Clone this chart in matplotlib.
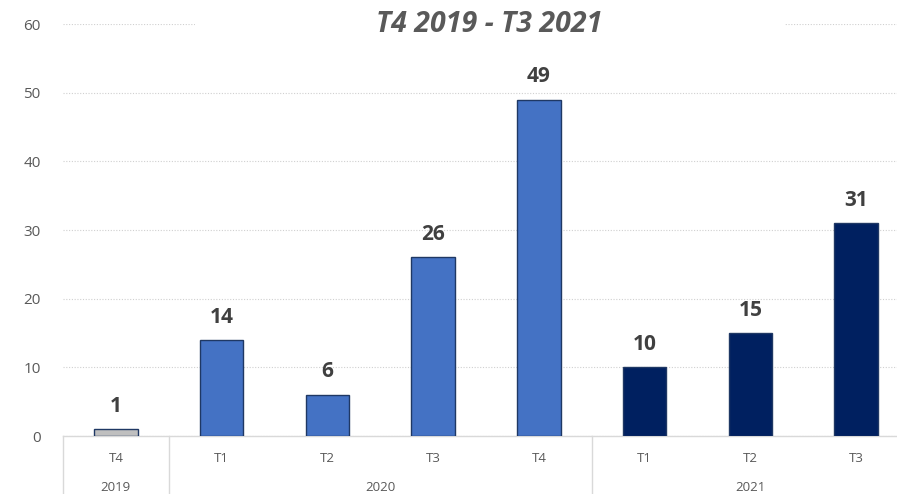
import matplotlib; matplotlib.use("Agg")
import matplotlib.pyplot as plt
import matplotlib.transforms as mtransforms
from matplotlib.patches import Rectangle

# data
quarters = ["T4", "T1", "T2", "T3", "T4", "T1", "T2", "T3"]
years = ["2019", "2020", "2020", "2020", "2020", "2021", "2021", "2021"]
values = [1, 14, 6, 26, 49, 10, 15, 31]
year_colors = {"2019": "#BFBFBF", "2020": "#4472C4", "2021": "#002060"}
title = "T4 2019 - T3 2021"

plt.rcParams["font.family"] = ["Open Sans", "DejaVu Sans"]

fig = plt.figure(figsize=(8.97, 4.94), dpi=100)
ax = fig.add_axes([63 / 897, 58 / 494, (909 - 63) / 897, 412 / 494])

x = list(range(len(values)))
colors = [year_colors[y] for y in years]
ax.bar(x, values, width=0.41, color=colors, edgecolor="#1F3864", linewidth=1.0, zorder=3)

for xi, v in zip(x, values):
    ax.text(xi, v + 1.8, str(v), ha="center", va="bottom", fontsize=15,
            fontweight="bold", color="#404040")

ax.set_xlim(-0.5, len(values) - 0.5)
ax.set_ylim(0, 60)
ax.set_yticks(range(0, 61, 10))
ax.tick_params(axis="y", length=0, labelsize=11, labelcolor="#595959", pad=16)
ax.set_xticks([])
ax.grid(axis="y", color="#D0D0D0", linestyle=(0, (1, 1.5)), linewidth=0.8, zorder=0)
for s in ["top", "right", "left"]:
    ax.spines[s].set_visible(False)
ax.spines["bottom"].set_color("#D9D9D9")
ax.spines["bottom"].set_linewidth(1.0)

trans = mtransforms.blended_transform_factory(ax.transData, ax.transAxes)

# quarter labels
for xi, q in zip(x, quarters):
    ax.text(xi, -0.055, q, transform=trans, ha="center", va="center",
            fontsize=9.5, color="#595959")

# year groups and separators
groups = []
for i, y in enumerate(years):
    if not groups or groups[-1][0] != y:
        groups.append([y, i, i])
    else:
        groups[-1][2] = i
bounds = [-0.5] + [g[2] + 0.5 for g in groups]
for b in bounds[:-1]:
    ax.plot([b, b], [0, -0.2], transform=trans, color="#D9D9D9", lw=1.0, clip_on=False)
for y, i0, i1 in groups:
    ax.text((i0 + i1) / 2, -0.125, y, transform=trans, ha="center", va="center",
            fontsize=9.5, color="#595959")

# title box hides the top gridline behind it
ax.add_patch(Rectangle((0.156, 0.96), 0.697, 0.08, transform=ax.transAxes,
                       facecolor="white", edgecolor="none", zorder=4, clip_on=False))
ax.text(0.5035, 1.0, title, transform=ax.transAxes, ha="center", va="center",
        fontsize=20.5, fontweight="bold", style="italic", color="#595959", zorder=5)

plt.savefig("out.png", dpi=100)
